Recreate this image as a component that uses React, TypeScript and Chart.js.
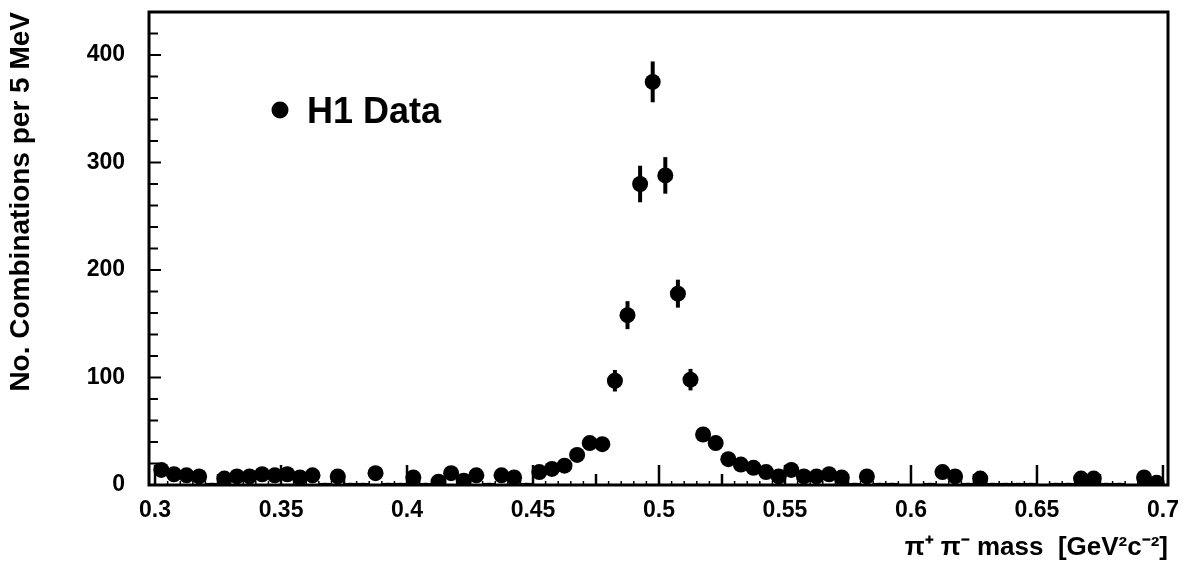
import React, { useEffect, useRef } from "react";
import { Chart, registerables } from "chart.js";

Chart.register(...registerables);

const masses = [
  0.3025, 0.3075, 0.3125, 0.3175, 0.3225, 0.3275, 0.3325, 0.3375, 0.3425, 0.3475,
  0.3525, 0.3575, 0.3625, 0.3675, 0.3725, 0.3775, 0.3825, 0.3875, 0.3925, 0.3975,
  0.4025, 0.4075, 0.4125, 0.4175, 0.4225, 0.4275, 0.4325, 0.4375, 0.4425, 0.4475,
  0.4525, 0.4575, 0.4625, 0.4675, 0.4725, 0.4775, 0.4825, 0.4875, 0.4925, 0.4975,
  0.5025, 0.5075, 0.5125, 0.5175, 0.5225, 0.5275, 0.5325, 0.5375, 0.5425, 0.5475,
  0.5525, 0.5575, 0.5625, 0.5675, 0.5725, 0.5775, 0.5825, 0.5875, 0.5925, 0.5975,
  0.6025, 0.6075, 0.6125, 0.6175, 0.6225, 0.6275, 0.6325, 0.6375, 0.6425, 0.6475,
  0.6525, 0.6575, 0.6625, 0.6675, 0.6725, 0.6775, 0.6825, 0.6875, 0.6925, 0.6975,
];

const counts = [
  14, 10, 9, 8, 1, 6, 8, 8, 10, 9,
  10, 7, 9, 1, 8, 1, 1, 11, 1, 1,
  7, 1, 3, 11, 4, 9, 1, 9, 7, 1,
  12, 15, 18, 28, 39, 38, 97, 158, 280, 375,
  288, 178, 98, 47, 39, 24, 19, 16, 12, 8,
  14, 8, 8, 10, 7, 1, 8, 1, 1, 0,
  0, 1, 12, 8, 1, 6, 1, 1, 1, 1,
  0, 1, 1, 6, 6, 1, 1, 0, 7, 2,
];

const errors = [
  4, 3, 3, 3, 1, 2, 3, 3, 3, 3,
  3, 3, 3, 1, 3, 1, 1, 3, 1, 1,
  3, 1, 2, 3, 2, 3, 1, 3, 3, 1,
  3, 4, 4, 5, 6, 6, 10, 13, 17, 19,
  17, 13, 10, 7, 6, 5, 4, 4, 3, 3,
  4, 3, 3, 3, 3, 1, 3, 1, 1, 0,
  0, 1, 3, 3, 1, 2, 1, 1, 1, 1,
  0, 1, 1, 2, 2, 1, 1, 0, 3, 1,
];

const xTickValues = [0.3, 0.35, 0.4, 0.45, 0.5, 0.55, 0.6, 0.65, 0.7];
const yTickValues = [0, 100, 200, 300, 400];
const binHalfWidth = 0.0025;

const FONT = "'Liberation Sans', Arial, Helvetica, sans-serif";

const histPlugin = {
  id: "histPlugin",
  beforeDatasetsDraw(chart: any) {
    const { ctx, chartArea } = chart;
    const xs = chart.scales.x;
    const ys = chart.scales.y;
    ctx.save();
    ctx.beginPath();
    ctx.rect(chartArea.left, chartArea.top, chartArea.right - chartArea.left, chartArea.bottom - chartArea.top);
    ctx.clip();
    ctx.strokeStyle = "#000";
    for (let i = 0; i < masses.length; i++) {
      const x = xs.getPixelForValue(masses[i]);
      const y = ys.getPixelForValue(counts[i]);
      ctx.lineWidth = 2;
      ctx.beginPath();
      ctx.moveTo(xs.getPixelForValue(masses[i] - binHalfWidth), y);
      ctx.lineTo(xs.getPixelForValue(masses[i] + binHalfWidth), y);
      ctx.stroke();
      if (errors[i] > 0) {
        ctx.lineWidth = 4;
        ctx.beginPath();
        ctx.moveTo(x, ys.getPixelForValue(counts[i] - errors[i]));
        ctx.lineTo(x, ys.getPixelForValue(counts[i] + errors[i]));
        ctx.stroke();
      }
    }
    ctx.restore();
  },
  afterDraw(chart: any) {
    const { ctx, chartArea } = chart;
    const xs = chart.scales.x;
    const ys = chart.scales.y;
    ctx.save();
    ctx.strokeStyle = "#000";
    ctx.lineWidth = 2;
    for (let v = 0; v <= 440; v += 20) {
      const y = ys.getPixelForValue(v);
      const len = v % 100 === 0 ? 12 : 9;
      ctx.beginPath();
      ctx.moveTo(chartArea.left, y);
      ctx.lineTo(chartArea.left + len, y);
      ctx.stroke();
    }
    for (let k = 0; k <= 80; k++) {
      const v = 0.3 + k * 0.005;
      const x = xs.getPixelForValue(v);
      let len = 4;
      if (k % 10 === 0) len = 20;
      else if (k % 5 === 0) len = 11;
      ctx.lineWidth = k % 5 === 0 ? 2.5 : 1.5;
      ctx.beginPath();
      ctx.moveTo(x, chartArea.bottom);
      ctx.lineTo(x, chartArea.bottom - len);
      ctx.stroke();
    }
    ctx.lineWidth = 3;
    ctx.strokeRect(chartArea.left, chartArea.top, chartArea.right - chartArea.left, chartArea.bottom - chartArea.top);
    // legend
    const lx = chartArea.left + 131;
    const ly = chartArea.top + 98;
    ctx.fillStyle = "#000";
    ctx.beginPath();
    ctx.arc(lx, ly, 8.5, 0, Math.PI * 2);
    ctx.fill();
    ctx.font = `bold 36px ${FONT}`;
    ctx.textBaseline = "middle";
    ctx.textAlign = "left";
    ctx.fillText("H1 Data", lx + 27, ly + 3);
    ctx.restore();
  },
};

export default function App() {
  const canvasRef = useRef<HTMLCanvasElement | null>(null);

  useEffect(() => {
    document.body.style.margin = "0";
    const canvas = canvasRef.current;
    if (!canvas) return;
    const data = masses.map((m, i) => ({ x: m, y: counts[i] }));
    const chart = new Chart(canvas, {
      type: "scatter",
      data: {
        datasets: [
          {
            label: "H1 Data",
            data,
            backgroundColor: "#000",
            borderColor: "#000",
            borderWidth: 0,
            pointStyle: "circle",
            pointRadius: (c: any) => (c.raw && c.raw.y < 2 ? 0 : 8),
            clip: 0,
          } as any,
        ],
      },
      options: {
        responsive: false,
        animation: false,
        devicePixelRatio: 1,
        layout: { padding: { top: 12, right: 26, left: 0, bottom: 0 } },
        plugins: {
          legend: { display: false },
          tooltip: { enabled: false },
        },
        scales: {
          x: {
            type: "linear",
            min: 0.2976,
            max: 0.702,
            grid: { display: false },
            border: { display: false },
            afterBuildTicks: (scale: any) => {
              scale.ticks = xTickValues.map((v) => ({ value: v }));
            },
            afterFit: (scale: any) => {
              scale.height = 80;
              scale.paddingLeft = 0;
              scale.paddingRight = 0;
            },
            ticks: {
              color: "#000",
              font: { family: FONT, weight: "bold", size: 23 },
              padding: 4,
              maxRotation: 0,
              autoSkip: false,
              callback: (v: any) => String(Number(v)),
            },
            title: {
              display: true,
              text: "π⁺ π⁻ mass  [GeV²c⁻²]",
              align: "end",
              color: "#000",
              font: { family: FONT, weight: "bold", size: 26 },
              padding: { top: 2, bottom: 2 },
            },
          },
          y: {
            type: "linear",
            min: 0,
            max: 440,
            grid: { display: false },
            border: { display: false },
            afterBuildTicks: (scale: any) => {
              scale.ticks = yTickValues.map((v) => ({ value: v }));
            },
            afterFit: (scale: any) => {
              scale.width = 149;
              scale.paddingTop = 0;
              scale.paddingBottom = 0;
            },
            ticks: {
              color: "#000",
              font: { family: FONT, weight: "bold", size: 23 },
              padding: 16,
            },
            title: {
              display: true,
              text: "No. Combinations per 5 MeV",
              align: "end",
              color: "#000",
              font: { family: FONT, weight: "bold", size: 28 },
              padding: { top: 4, bottom: 0 },
            },
          },
        },
      },
      plugins: [histPlugin],
    } as any);
    return () => chart.destroy();
  }, []);

  return <canvas ref={canvasRef} width={1194} height={565} style={{ display: "block" }} />;
}
